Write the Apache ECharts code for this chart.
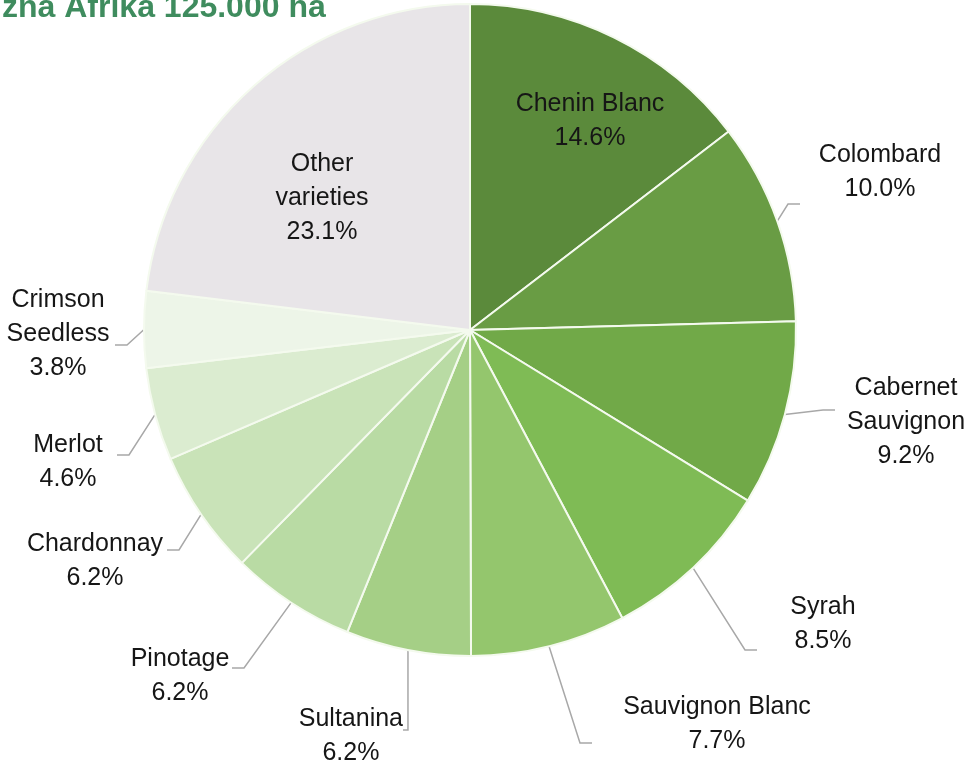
<!DOCTYPE html>
<html>
<head>
<meta charset="utf-8">
<script src="https://cdn.jsdelivr.net/npm/echarts@6/dist/echarts.min.js"></script>
<style>html,body{margin:0;padding:0;background:#fff}#c{width:973px;height:771px}</style>
</head>
<body>
<div id="c"></div>
<script>
const titleText = 'žna Afrika 125.000 ha';
const categories = ['Chenin Blanc','Colombard','Cabernet Sauvignon','Syrah','Sauvignon Blanc','Sultanina','Pinotage','Chardonnay','Merlot','Crimson Seedless','Other varieties'];
const labelNames = ['Chenin Blanc','Colombard','Cabernet\nSauvignon','Syrah','Sauvignon Blanc','Sultanina','Pinotage','Chardonnay','Merlot','Crimson\nSeedless','Other\nvarieties'];
const shares = [14.6, 10.0, 9.2, 8.5, 7.7, 6.2, 6.2, 6.2, 4.6, 3.8, 23.1];
const colors = ['#5b8a3b','#699c44','#71a948','#7fbb55','#94c66d','#a5cf86','#b9dba4','#c9e3b8','#dbecd0','#edf5e8','#e8e5e8'];
// layout only: label text centres and leader-line attach points
const textCenter = [[590,121],[880,172],[906,422],[823,624],[717,724],[352,736],[180,676],[95,561],[68,462],[58,334],[322,198]];
const attach = [null,[800,204],[835,410],[757,650],[592,743],[403,730],[232,668],[167,550],[117,455],[115,345],null];

const FONT = 'Liberation Sans';
const FS = 25, LH = 34, LEN2 = 12, EXTRA = 140;
const ctx = document.createElement('canvas').getContext('2d');
ctx.font = FS + 'px "' + FONT + '"';

function labelText(i){ return labelNames[i] + '\n' + shares[i].toFixed(1) + '%'; }

const boxCenter = [];
const fmt = [];
const data = categories.map((n,i)=>{
  const lines = labelText(i).split('\n');
  const w = Math.max(...lines.map(l=>ctx.measureText(l).width));
  let [cx, cy] = textCenter[i];
  const item = {name:n, value:shares[i], itemStyle:{color:colors[i]}};
  if (!attach[i]) {
    item.label = {position:'inside', padding:0};
    item.labelLine = {show:false};
    boxCenter[i] = [cx, cy];
    fmt[i] = labelText(i);
    return item;
  }
  const [ax, ay] = attach[i];
  let pl=0, pr=0;
  if (ax < cx) { // attach on left
    pl = (cx - w/2) - ax;
    if (pl < 0) { cx = ax + w/2; pl = 0; }
    pr = EXTRA;
  } else {
    pr = ax - (cx + w/2);
    if (pr < 0) { cx = ax - w/2; pr = 0; }
    pl = EXTRA;
  }
  const s = ay - cy;
  const sp = Math.max(1, Math.round(Math.abs(s)*2));
  const rich = {sp:{fontSize:1, lineHeight:sp}};
  fmt[i] = s > 0 ? labelText(i) + '\n{sp| }' : '{sp| }\n' + labelText(i);
  item.label = {position:'outside', padding:[0,pr,0,pl], rich:rich};
  item.labelLine = {show:true};
  boxCenter[i] = [cx + (pr-pl)/2, ay];
  return item;
});

const chart = echarts.init(document.getElementById('c'), null, {renderer:'canvas'});
chart.setOption({
  animation:false,
  title:{text:titleText,left:-3,top:-13,textStyle:{color:'#3f8c5e',fontSize:32,fontWeight:'bold',fontFamily:FONT}},
  series:[{
    type:'pie',
    center:[470,330],
    radius:[0,326],
    startAngle:90,
    clockwise:true,
    avoidLabelOverlap:false,
    data:data,
    itemStyle:{borderColor:'#f4faee',borderWidth:2},
    label:{
      formatter:(p)=>fmt[p.dataIndex],
      fontFamily:FONT,fontSize:FS,color:'#161616',lineHeight:LH,align:'center',
      overflow:'none'
    },
    labelLine:{lineStyle:{color:'#a8a8a8',width:1.5},length:15,length2:LEN2},
    labelLayout:(params)=>{
      const p = boxCenter[params.dataIndex];
      return {x:p[0], y:p[1], align:'center', verticalAlign:'middle'};
    }
  }]
});
</script>
</body>
</html>
